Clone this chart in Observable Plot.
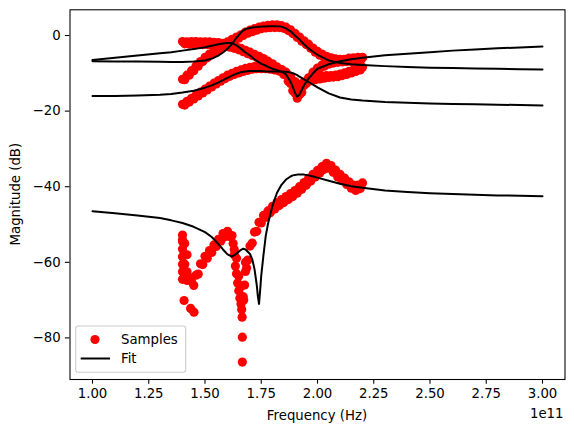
<!DOCTYPE html>
<html><head><meta charset="utf-8">
<script src="https://cdn.jsdelivr.net/npm/d3@7"></script>
<script src="https://cdn.jsdelivr.net/npm/@observablehq/plot@0.6"></script>
<style>body{margin:0;background:#fff;}</style>
</head><body><div id="chart"></div>
<script>
// frequencies in units of 1e11 Hz
const sampleFreq = [1.40,1.41,1.42,1.43,1.44,1.45,1.46,1.47,1.48,1.49,
1.50,1.51,1.52,1.53,1.54,1.55,1.56,1.57,1.58,1.59,
1.60,1.61,1.62,1.63,1.64,1.65,1.66,1.67,1.68,1.69,
1.70,1.71,1.72,1.73,1.74,1.75,1.76,1.77,1.78,1.79,
1.80,1.81,1.82,1.83,1.84,1.85,1.86,1.87,1.88,1.89,
1.90,1.91,1.92,1.93,1.94,1.95,1.96,1.97,1.98,1.99,
2.00,2.01,2.02,2.03,2.04,2.05,2.06,2.07,2.08,2.09,
2.10,2.11,2.12,2.13,2.14,2.15,2.16,2.17,2.18,2.19,2.20];

const sampleA = [-1.6,-2.2,-1.7,-2.3,-1.6,-2.3,-1.6,-2.3,-1.7,-2.4,
-1.7,-2.4,-1.7,-2.5,-1.8,-2.6,-1.9,-2.7,-2.1,-2.9,
-2.3,-3.1,-2.6,-3.4,-3.0,-3.8,-3.4,-4.3,-3.9,-4.8,
-4.4,-5.3,-5.0,-5.8,-5.5,-6.4,-6.1,-7.1,-6.8,-7.8,
-7.5,-8.5,-8.3,-9.3,-9.1,-10.3,-10.5,-12.1,-12.7,-14.6,
-15.2,-16.6,-15.7,-15.1,-13.2,-12.7,-11.2,-11.0,-9.7,-9.7,
-8.6,-8.8,-7.8,-8.1,-7.2,-7.6,-6.8,-7.3,-6.6,-7.1,
-6.5,-7.0,-6.5,-6.9,-6.2,-6.9,-6.1,-6.8,-6.0,-6.7,-5.9];

const sampleB = [-11.6,-11.7,-10.5,-10.5,-9.3,-9.3,-8.1,-8.1,-6.9,-6.9,
-5.8,-5.9,-4.9,-5.1,-4.1,-4.3,-3.3,-3.5,-2.5,-2.7,
-1.7,-1.9,-1.0,-1.3,-0.4,-0.7,0.2,0.0,0.9,0.6,
1.4,1.0,1.8,1.4,2.2,1.8,2.5,2.0,2.7,2.1,
2.8,2.1,2.8,2.1,2.6,1.9,2.2,1.3,1.5,0.5,
0.6,-0.5,-0.4,-1.5,-1.4,-2.4,-2.3,-3.4,-3.3,-4.4,
-4.2,-5.2,-4.9,-5.8,-5.5,-6.3,-5.9,-6.7,-6.2,-6.9,
-6.3,-6.8,-6.3,-6.7,-6.0,-6.6,-5.9,-6.6,-5.8,-6.5,-5.8];

const sampleC = [-18.2,-18.4,-17.4,-17.6,-16.6,-16.8,-15.8,-16.0,-15.0,-15.2,
-14.2,-14.4,-13.4,-13.6,-12.6,-12.8,-11.9,-12.1,-11.2,-11.4,
-10.5,-10.8,-10.0,-10.3,-9.5,-9.9,-9.1,-9.5,-8.7,-9.2,
-8.4,-8.9,-8.2,-8.8,-8.1,-8.8,-8.1,-8.8,-8.3,-8.9,
-8.4,-9.1,-8.6,-9.4,-9.0,-9.9,-9.7,-10.8,-10.8,-12.1,
-12.2,-13.3,-12.9,-13.3,-12.3,-12.5,-11.6,-12.0,-11.2,-11.7,
-11.0,-11.5,-10.8,-11.3,-10.6,-11.1,-10.6,-11.0,-10.5,-10.9,
-10.2,-10.6,-9.9,-10.3,-9.5,-9.9,-9.1,-9.5,-8.7,-9.1,-8.4];

const sampleD = [-54.0,-58.0,-62.5,-64.0,-65.0,-66.1,-63.4,-63.1,-60.4,-60.6,
-58.4,-58.9,-56.9,-57.4,-55.4,-55.8,-53.9,-54.4,-52.4,-53.2,
-51.8,-53.2,-52.9,-56.6,-58.9,-63.6,-66.4,-69.1,-62.4,-59.4,
-55.7,-54.9,-52.0,-51.8,-49.4,-49.6,-47.6,-48.1,-46.4,-46.9,
-45.2,-45.9,-44.2,-45.0,-43.4,-44.2,-42.6,-43.4,-41.8,-42.6,
-41.0,-41.7,-40.0,-40.7,-38.9,-39.6,-37.8,-38.5,-36.7,-37.4,
-35.7,-36.4,-34.7,-35.4,-33.8,-35.1,-34.4,-36.2,-35.6,-37.4,
-36.7,-38.4,-37.7,-39.4,-38.7,-40.4,-39.6,-41.0,-39.6,-40.5,-39.0];

// extra (repeated-frequency) sample points of the lowest trace
const extraFreqD = [1.40,1.40,1.40,1.40,1.40,1.40,1.40,1.41,1.41,1.41,1.42,1.42,1.407,1.436,1.451,
1.625,1.63,1.635,1.64,1.645,1.65,1.655,1.66,1.663,1.665,1.666,1.666,1.672,1.676,1.68,1.685];
const extraDbD = [-52.8,-54.5,-56.5,-58.5,-60.5,-62.5,-64.5,-55.0,-60.5,-63.5,-58.0,-64.8,-70.1,-72.2,-73.2,
-55.0,-58.0,-61.0,-63.0,-65.5,-67.5,-69.5,-71.0,-72.5,-74.5,-79.8,-86.4,-70.0,-66.0,-60.0,-61.5];

const fitFreq = [1.00,1.10,1.20,1.30,1.35,1.40,1.45,1.50,1.53,1.56,
1.58,1.60,1.62,1.64,1.66,1.67,1.68,1.70,1.71,1.72,
1.73,1.735,1.74,1.745,1.75,1.76,1.77,1.78,1.80,1.82,
1.84,1.86,1.88,1.89,1.90,1.91,1.92,1.94,1.96,1.98,
2.00,2.05,2.10,2.15,2.20,2.30,2.40,2.50,2.60,2.70,
2.80,2.90,3.00];

const fitA = [-6.5,-5.9,-5.3,-4.7,-4.4,-4.0,-3.6,-3.1,-2.7,-2.3,
-2.1,-1.95,-2.0,-2.6,-3.5,-4.0,-4.5,-5.3,-5.8,-6.3,
-6.7,-6.9,-7.1,-7.3,-7.5,-7.7,-8.0,-8.3,-8.8,-9.2,
-9.5,-10.3,-12.2,-13.6,-15.2,-16.2,-15.6,-13.2,-11.4,-10.0,
-8.8,-7.6,-6.8,-6.3,-5.9,-5.2,-4.8,-4.4,-4.0,-3.7,
-3.4,-3.15,-2.9];

const fitB = [-6.8,-6.85,-6.9,-6.95,-7.0,-7.0,-6.9,-6.6,-6.1,-5.3,
-4.5,-3.5,-2.2,-0.6,0.8,1.3,1.7,2.0,2.1,2.2,
2.25,2.3,2.3,2.3,2.35,2.4,2.4,2.45,2.45,2.45,
2.35,1.9,1.1,0.6,0.0,-0.5,-1.1,-2.3,-3.4,-4.3,
-5.1,-6.6,-7.3,-7.6,-7.8,-8.1,-8.3,-8.5,-8.6,-8.7,
-8.8,-8.9,-9.0];

const fitC = [-16.0,-16.0,-15.9,-15.7,-15.5,-15.1,-14.6,-13.8,-13.2,-12.4,
-11.8,-11.2,-10.6,-10.1,-9.7,-9.6,-9.5,-9.4,-9.4,-9.4,
-9.4,-9.4,-9.4,-9.4,-9.4,-9.45,-9.5,-9.5,-9.5,-9.5,
-9.6,-9.6,-9.8,-10.0,-10.2,-10.5,-10.9,-11.6,-12.3,-13.0,
-13.7,-15.3,-16.4,-16.9,-17.2,-17.6,-17.8,-18.0,-18.1,-18.2,
-18.3,-18.4,-18.5];

const fitD = [-46.5,-47.0,-47.6,-48.3,-48.9,-49.6,-50.6,-52.0,-53.3,-55.2,
-56.6,-57.9,-58.5,-57.7,-56.7,-56.4,-56.6,-57.8,-59.2,-61.8,
-66.0,-69.0,-71.0,-67.5,-63.5,-58.0,-53.0,-49.8,-45.0,-41.6,
-39.5,-38.1,-37.3,-37.0,-36.9,-36.8,-36.8,-36.8,-37.0,-37.3,
-37.6,-38.4,-39.2,-39.9,-40.3,-41.0,-41.4,-41.7,-41.9,-42.1,
-42.3,-42.4,-42.5];

const xTicks = [1.00,1.25,1.50,1.75,2.00,2.25,2.50,2.75,3.00];
const yTicks = [0,-20,-40,-60,-80];
const xLabel = "Frequency (Hz)";
const yLabel = "Magnitude (dB)";
const xOffsetLabel = "1e11";
const legendLabels = ["Samples","Fit"];

// build tables
const samples = [];
for (const s of [sampleA, sampleB, sampleC, sampleD]) {
  sampleFreq.forEach((f, i) => samples.push({f, db: s[i]}));
}
extraFreqD.forEach((f, i) => samples.push({f, db: extraDbD[i]}));
const fits = [fitA, fitB, fitC, fitD].map(s => fitFreq.map((f, i) => ({f, db: s[i]})));

const FONT = "DejaVu Sans";
const FS = 13.3;
const minus = d => d < 0 ? "\u2212" + (-d) : String(d);

const ml = 69.5, mr = 9.5, mt = 9.3, mb = 53;
const plot = Plot.plot({
  width: 574, height: 432,
  marginLeft: ml, marginRight: mr, marginTop: mt, marginBottom: mb,
  x: {domain: [0.9, 3.1], label: null},
  y: {domain: [-91, 6.8], label: null},
  style: {fontFamily: FONT, fontSize: FS + "px", background: "white", color: "black", overflow: "visible"},
  marks: [
    Plot.dot(samples, {x: "f", y: "db", r: 4.6, fill: "#ff0000", stroke: null}),
    ...fits.map(fd => Plot.line(fd, {x: "f", y: "db", stroke: "black", strokeWidth: 2})),
    Plot.frame({stroke: "black", strokeWidth: 1.07}),
    Plot.axisX({ticks: xTicks, tickFormat: d => d.toFixed(2), tickSize: 4.67, tickPadding: 4.67, label: null, strokeWidth: 1.07}),
    Plot.axisY({ticks: yTicks, tickFormat: minus, tickSize: 4.67, tickPadding: 4.67, label: null, strokeWidth: 1.07})
  ]
});
document.getElementById("chart").appendChild(plot);

const svg = d3.select(plot);
const W = 574, H = 432;
const cx = ml + (W - ml - mr) / 2, cy = mt + (H - mt - mb) / 2;
const addText = (sel, str, anchor) => sel.attr("text-anchor", anchor).attr("dominant-baseline", "central")
  .attr("font-family", FONT).attr("font-size", FS).attr("fill", "black").text(str);
addText(svg.append("text").attr("x", cx).attr("y", 415), xLabel, "middle");
addText(svg.append("text").attr("transform", `translate(15.5,${cy}) rotate(-90)`), yLabel, "middle");
addText(svg.append("text").attr("x", W - mr - 1).attr("y", 413), xOffsetLabel, "end");

// legend
const lg = svg.append("g");
lg.append("rect").attr("x", 75.7).attr("y", 326).attr("width", 110).attr("height", 46.3).attr("rx", 2.5)
  .attr("fill", "white").attr("fill-opacity", 0.8).attr("stroke", "#cccccc").attr("stroke-width", 1.07);
lg.append("circle").attr("cx", 95).attr("cy", 339.5).attr("r", 4.6).attr("fill", "#ff0000");
addText(lg.append("text").attr("x", 121).attr("y", 339.5), legendLabels[0], "start");
lg.append("line").attr("x1", 80.7).attr("x2", 110).attr("y1", 358.5).attr("y2", 358.5).attr("stroke", "black").attr("stroke-width", 2);
addText(lg.append("text").attr("x", 121).attr("y", 358.5), legendLabels[1], "start");
</script>
</body></html>
